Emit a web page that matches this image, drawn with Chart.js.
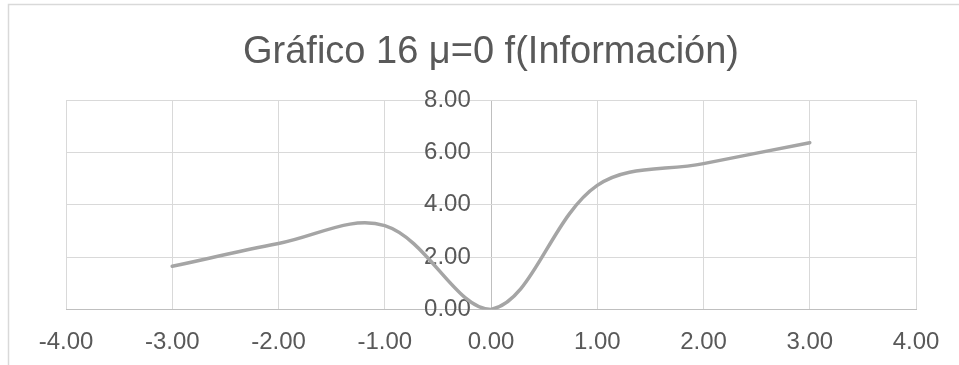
<!DOCTYPE html>
<html>
<head>
<meta charset="utf-8">
<title>Gráfico 16</title>
<script src="https://cdn.jsdelivr.net/npm/chart.js@4.4.1/dist/chart.umd.min.js"></script>
<style>
  html, body { margin: 0; padding: 0; background: #ffffff; }
  canvas { display: block; }
</style>
</head>
<body>
<canvas id="chart" width="959" height="365"></canvas>
<script>
// Information function for mu = 0, sampled at whole-number abscissas
const xValues = [-3, -2, -1, 0, 1, 2, 3];
const infoValues = [1.65, 2.52, 3.2, 0.0, 4.74, 5.57, 6.37];

// Axis ticks
const xTicks = [-4, -3, -2, -1, 0, 1, 2, 3, 4];
const yTicks = [0, 2, 4, 6, 8];

const chartTitle = 'Gráfico 16 μ=0 f(Información)';

const points = xValues.map((x, i) => ({ x: x, y: infoValues[i] }));

const TEXT = '#595959';
const GRID = '#D9D9D9';
const AXIS = '#BFBFBF';
const FONT = "'Liberation Sans', Arial, sans-serif";

// Light frame around the chart object
const framePlugin = {
  id: 'frame',
  beforeDraw(chart) {
    const ctx = chart.ctx;
    ctx.save();
    ctx.fillStyle = '#ffffff';
    ctx.fillRect(0, 0, chart.width, chart.height);
    ctx.strokeStyle = GRID;
    ctx.lineWidth = 1.5;
    ctx.beginPath();
    ctx.moveTo(8.5, chart.height);
    ctx.lineTo(8.5, 4.5);
    ctx.lineTo(chart.width, 4.5);
    ctx.stroke();
    ctx.restore();
  }
};

new Chart(document.getElementById('chart'), {
  type: 'scatter',
  data: {
    datasets: [{
      data: points,
      showLine: true,
      borderColor: '#A5A5A5',
      borderWidth: 3.5,
      borderCapStyle: 'round',
      borderJoinStyle: 'round',
      pointRadius: 0,
      pointHoverRadius: 0,
      tension: 0.36,
      fill: false
    }]
  },
  options: {
    responsive: false,
    devicePixelRatio: 1,
    animation: false,
    events: [],
    layout: { padding: { left: 66, right: 43, top: 0, bottom: 55.5 } },
    plugins: {
      legend: { display: false },
      tooltip: { enabled: false },
      title: {
        display: true,
        text: chartTitle,
        color: TEXT,
        font: { family: FONT, size: 38, weight: 'normal' },
        padding: { top: 30, bottom: 24.4 }
      }
    },
    scales: {
      x: {
        type: 'linear',
        position: { y: 0 },
        min: xTicks[0],
        max: xTicks[xTicks.length - 1],
        afterBuildTicks(scale) { scale.ticks = xTicks.map(v => ({ value: v })); },
        // the vertical line through x = 0 doubles as the value axis
        grid: {
          color: c => (c.tick && c.tick.value === 0 ? AXIS : GRID),
          lineWidth: 1,
          drawTicks: false
        },
        border: { color: AXIS, width: 1 },
        ticks: {
          color: TEXT,
          font: { family: FONT, size: 24 },
          padding: 18,
          maxRotation: 0,
          callback: v => Number(v).toFixed(2)
        }
      },
      y: {
        type: 'linear',
        // labels sit just left of the x = 0 line
        position: { x: -0.19 },
        min: yTicks[0],
        max: yTicks[yTicks.length - 1],
        afterBuildTicks(scale) { scale.ticks = yTicks.map(v => ({ value: v })); },
        grid: { color: GRID, lineWidth: 1, drawTicks: false },
        border: { display: false },
        ticks: {
          color: TEXT,
          font: { family: FONT, size: 24 },
          callback: v => Number(v).toFixed(2)
        }
      }
    }
  },
  plugins: [framePlugin]
});
</script>
</body>
</html>
